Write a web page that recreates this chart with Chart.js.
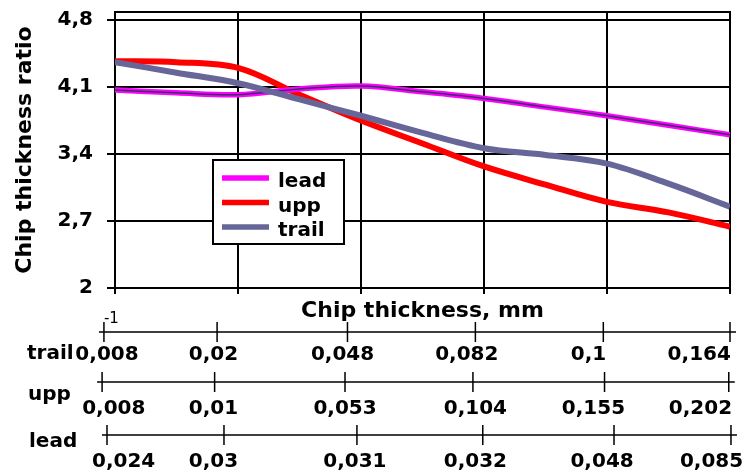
<!DOCTYPE html>
<html>
<head>
<meta charset="utf-8">
<script src="https://cdn.jsdelivr.net/npm/chart.js@4.4.1/dist/chart.umd.min.js"></script>
<style>
  html, body { margin: 0; padding: 0; background: #fff; }
  #wrap { width: 746px; height: 472px; position: relative; }
</style>
</head>
<body>
<div id="wrap"><canvas id="ratioChart"></canvas></div>
<script>
// positions along the chip thickness axis (grid steps 0..5)
const xSteps = [0, 0.5, 1, 1.5, 2, 2.5, 3, 3.5, 4, 4.5, 5];
const leadRatio  = [4.07, 4.04, 4.02, 4.08, 4.11, 4.05, 3.98, 3.89, 3.80, 3.70, 3.60];
const uppRatio   = [4.37, 4.36, 4.30, 4.02, 3.75, 3.51, 3.27, 3.08, 2.90, 2.79, 2.64];
const trailRatio = [4.36, 4.25, 4.14, 3.97, 3.80, 3.62, 3.46, 3.39, 3.30, 3.09, 2.85];
const yTicks = [2, 2.7, 3.4, 4.1, 4.8];
const xGridSteps = [0, 1, 2, 3, 4, 5];

// secondary chip thickness scales under the chart (positions in main x units)
const trailLabels  = ['0,008', '0,02', '0,048', '0,082', '0,1', '0,164'];
const trailTickAt  = [-0.09, 0.83, 1.89, 2.93, 3.97, 5.0];
const trailLabelAt = [-0.065, 0.80, 1.85, 2.86, 3.85, 4.75];
const uppLabels    = ['0,008', '0,01', '0,053', '0,104', '0,155', '0,202'];
const uppTickAt    = [-0.105, 0.81, 1.87, 2.91, 3.98, 4.99];
const uppLabelAt   = [-0.01, 0.80, 1.87, 2.93, 3.89, 4.76];
const leadLabels   = ['0,024', '0,03', '0,031', '0,032', '0,048', '0,085'];
const leadTickAt   = [-0.065, 0.886, 1.967, 2.99, 4.057, 5.008];
const leadLabelAt  = [0.07, 0.80, 1.95, 2.93, 3.96, 4.85];

const FONT = '"DejaVu Sans", sans-serif';
Chart.defaults.font.family = FONT;
Chart.defaults.color = '#000';

const toPts = arr => arr.map((v, i) => ({ x: xSteps[i], y: v }));

// top + right border of the plot box
const frame = {
  id: 'frame',
  beforeDatasetsDraw(chart) {
    const { ctx, chartArea: a } = chart;
    ctx.save();
    ctx.strokeStyle = '#000';
    ctx.lineWidth = 2;
    ctx.strokeRect(a.left, a.top, a.right - a.left, a.bottom - a.top);
    ctx.restore();
  }
};

// boxed legend inside the plot
const boxLegend = {
  id: 'boxLegend',
  afterDraw(chart) {
    const ctx = chart.ctx;
    const items = chart.data.datasets.filter(d => d.label);
    ctx.save();
    ctx.fillStyle = '#fff';
    ctx.fillRect(213, 160, 131, 84);
    ctx.lineWidth = 2;
    ctx.strokeStyle = '#000';
    ctx.strokeRect(213, 160, 131, 84);
    ctx.font = 'bold 20px ' + FONT;
    ctx.textBaseline = 'alphabetic';
    ctx.textAlign = 'left';
    items.forEach((d, i) => {
      const y = 178 + i * 24.5;
      ctx.strokeStyle = d.borderColor;
      ctx.lineWidth = 5.5;
      ctx.beginPath();
      ctx.moveTo(222, y);
      ctx.lineTo(269, y);
      ctx.stroke();
      ctx.fillStyle = '#000';
      ctx.fillText(d.label, 278, y + 9);
    });
    ctx.restore();
  }
};

const secondaryAxes = [
  { name: 'trail', labels: trailLabels, tickAt: trailTickAt, labelAt: trailLabelAt, lineY: 332, textY: 360, nameX: 27, nameY: 359 },
  { name: 'upp',   labels: uppLabels,   tickAt: uppTickAt,   labelAt: uppLabelAt,   lineY: 382, textY: 414, nameX: 28, nameY: 400 },
  { name: 'lead',  labels: leadLabels,  tickAt: leadTickAt,  labelAt: leadLabelAt,  lineY: 435, textY: 467, nameX: 29, nameY: 447 }
];

const bottomScales = {
  id: 'bottomScales',
  afterDraw(chart) {
    const ctx = chart.ctx;
    const xs = chart.scales.x;
    ctx.save();
    ctx.strokeStyle = '#000';
    ctx.fillStyle = '#000';
    ctx.lineWidth = 1.5;
    secondaryAxes.forEach(row => {
      const px = row.tickAt.map(v => xs.getPixelForValue(v));
      ctx.beginPath();
      ctx.moveTo(px[0] - 5, row.lineY);
      ctx.lineTo(px[px.length - 1] + 6, row.lineY);
      px.forEach(p => {
        ctx.moveTo(p, row.lineY - 10);
        ctx.lineTo(p, row.lineY + 10);
      });
      ctx.stroke();

      ctx.font = 'bold 20px ' + FONT;
      ctx.textBaseline = 'alphabetic';
      ctx.textAlign = 'center';
      row.labels.forEach((t, i) => {
        ctx.fillText(t, xs.getPixelForValue(row.labelAt[i]), row.textY);
      });
      ctx.textAlign = 'left';
      ctx.fillText(row.name, row.nameX, row.nameY);
    });
    // exponent mark above the first trail tick
    ctx.font = '15px ' + FONT;
    ctx.textAlign = 'left';
    ctx.fillText('-1', xs.getPixelForValue(trailTickAt[0]), 323);
    ctx.restore();
  }
};

const ctx = document.getElementById('ratioChart').getContext('2d');
new Chart(ctx, {
  type: 'line',
  data: {
    datasets: [
      { label: 'lead', data: toPts(leadRatio), borderColor: '#ff00ff', borderWidth: 5.5, order: 2 },
      { label: 'upp', data: toPts(uppRatio), borderColor: '#ff0000', borderWidth: 6, order: 3 },
      { label: 'trail', data: toPts(trailRatio), borderColor: '#666699', borderWidth: 6, order: 0 },
      // thin dark core of the lead line
      { label: '', data: toPts(leadRatio), borderColor: '#333366', borderWidth: 1.5, order: 1 }
    ]
  },
  options: {
    responsive: true,
    maintainAspectRatio: false,
    animation: false,
    layout: { padding: { left: 0, right: 16, top: 12, bottom: 144 } },
    elements: {
      point: { radius: 0, hoverRadius: 0 },
      line: { tension: 0.35, fill: false }
    },
    plugins: {
      legend: { display: false },
      tooltip: { enabled: false }
    },
    scales: {
      x: {
        type: 'linear',
        min: 0,
        max: 5,
        afterBuildTicks: s => { s.ticks = xGridSteps.map(v => ({ value: v })); },
        afterFit: s => { s.height = 40; s.paddingLeft = 0; s.paddingRight = 0; },
        grid: { color: '#000', lineWidth: 2, tickLength: 6 },
        border: { color: '#000', width: 2 },
        ticks: { display: false },
        title: {
          display: true,
          text: 'Chip thickness, mm',
          font: { size: 22, weight: 'bold' },
          padding: { top: 0, bottom: 4 }
        }
      },
      y: {
        min: 2,
        max: 4.884,
        afterBuildTicks: s => { s.ticks = yTicks.map(v => ({ value: v })); },
        afterFit: s => { s.width = 115; s.paddingTop = 0; s.paddingBottom = 0; },
        grid: { color: '#000', lineWidth: 2, tickLength: 8 },
        border: { color: '#000', width: 2 },
        ticks: {
          padding: 14,
          font: { size: 20, weight: 'bold' },
          callback: v => String(v).replace('.', ',')
        },
        title: {
          display: true,
          text: 'Chip thickness ratio',
          font: { size: 22, weight: 'bold' },
          padding: { top: 12, bottom: 0 }
        }
      }
    }
  },
  plugins: [frame, boxLegend, bottomScales]
});
</script>
</body>
</html>
